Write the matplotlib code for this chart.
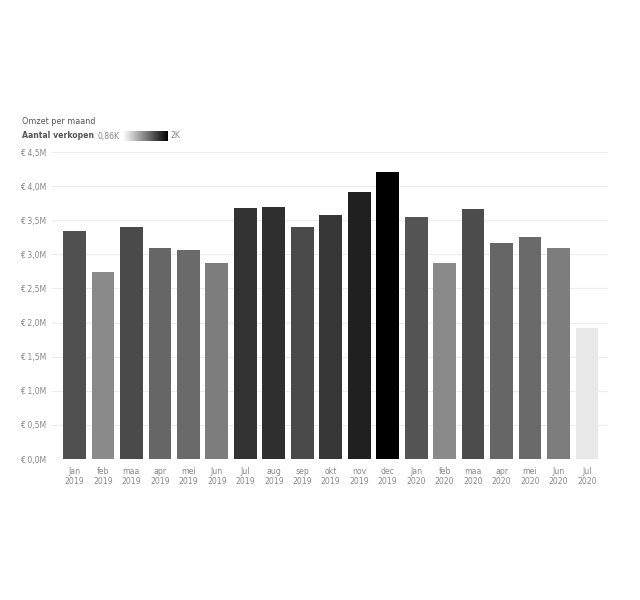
import matplotlib.pyplot as plt
import numpy as np
from matplotlib.colors import LinearSegmentedColormap, Normalize

# data
maanden = ['Jan', 'feb', 'maa', 'apr', 'mei', 'Jun', 'Jul', 'aug', 'sep', 'okt', 'nov', 'dec',
           'Jan', 'feb', 'maa', 'apr', 'mei', 'Jun', 'Jul']
jaren = ['2019'] * 12 + ['2020'] * 7
omzet = [3.34, 2.74, 3.40, 3.10, 3.06, 2.88, 3.68, 3.69, 3.40, 3.57, 3.92, 4.20,
         3.55, 2.87, 3.67, 3.16, 3.25, 3.10, 1.92]  # miljoen euro
verkopen = [1607, 1322, 1636, 1499, 1479, 1386, 1749, 1764, 1636, 1725, 1843, 2000,
            1587, 1322, 1626, 1499, 1479, 1386, 860]
y_ticks = [0.0, 0.5, 1.0, 1.5, 2.0, 2.5, 3.0, 3.5, 4.0, 4.5]

cmap = LinearSegmentedColormap.from_list('grijs', ['#e8e8e8', '#000000'])
norm = Normalize(vmin=860, vmax=2000)

fig = plt.figure(figsize=(6.4, 6.0), dpi=100)
ax = fig.add_axes([52 / 640, 1 - 459 / 600, 556 / 640, 307 / 600])

x = np.arange(len(omzet))
kleuren = [cmap(norm(v)) for v in verkopen]
ax.bar(x, omzet, width=0.8, color=kleuren, zorder=3)

ax.set_xlim(-0.79, 18.74)
ax.set_ylim(0, 4.5)
ax.set_yticks(y_ticks)
ax.set_yticklabels(['€ ' + f'{t:.1f}'.replace('.', ',') + 'M' for t in y_ticks])
ax.set_xticks(x)
ax.set_xticklabels([m + '\n' + j for m, j in zip(maanden, jaren)], linespacing=1.05)
ax.tick_params(axis='both', length=0, labelsize=5.6, colors='#888888')
ax.tick_params(axis='y', pad=4)
ax.tick_params(axis='x', pad=6)
ax.grid(axis='y', color='#ececec', linewidth=0.8, zorder=0)
for s in ax.spines.values():
    s.set_visible(False)

# titel en legenda
fig.text(22 / 640, 1 - 121 / 600, 'Omzet per maand', fontsize=5.8, color='#555555', va='center')
fig.text(22 / 640, 1 - 136 / 600, 'Aantal verkopen', fontsize=5.6, color='#555555',
         fontweight='bold', va='center')
fig.text(97 / 640, 1 - 136 / 600, '0,86K', fontsize=5.6, color='#888888', va='center')
fig.text(170 / 640, 1 - 136 / 600, '2K', fontsize=5.6, color='#888888', va='center')
cax = fig.add_axes([123 / 640, 1 - 141 / 600, 45 / 640, 10 / 600])
grad = np.linspace(0, 1, 256).reshape(1, -1)
gcmap = LinearSegmentedColormap.from_list('leg', ['#ffffff', '#000000'])
cax.imshow(grad, aspect='auto', cmap=gcmap)
cax.axis('off')

fig.savefig('out.png', dpi=100, facecolor='white')
